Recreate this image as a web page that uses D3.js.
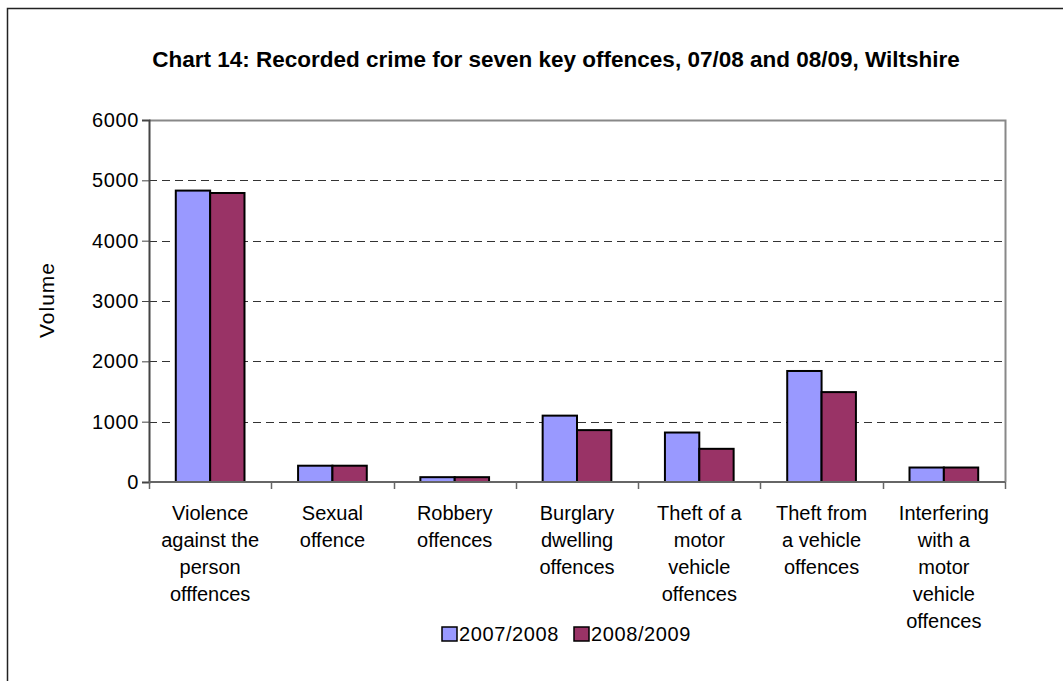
<!DOCTYPE html>
<html>
<head>
<meta charset="utf-8">
<script src="https://cdn.jsdelivr.net/npm/d3@7"></script>
<style>
  body { margin: 0; background: #fff; }
  text { font-family: "Liberation Sans", Arial, sans-serif; fill: #000; }
</style>
</head>
<body>
<script>
var width = 1063;
var height = 681;

var margin = {top: 120, left: 149, right: 58, bottom: 199};

var categories = [
  ["Violence", "against the", "person", "offfences"],
  ["Sexual", "offence"],
  ["Robbery", "offences"],
  ["Burglary", "dwelling", "offences"],
  ["Theft of a", "motor", "vehicle", "offences"],
  ["Theft from", "a vehicle", "offences"],
  ["Interfering", "with a", "motor", "vehicle", "offences"]
];
var series = ["2007/2008", "2008/2009"];
var values0708 = [4830, 270, 80, 1100, 820, 1840, 240];
var values0809 = [4790, 270, 80, 860, 550, 1490, 240];
var yTicks = [0, 1000, 2000, 3000, 4000, 5000, 6000];
var colors = ["#9999ff", "#993366"];

var svg = d3.select("body")
  .append("svg")
  .attr("width", width)
  .attr("height", height);

// outer frame (left and top only visible)
svg.append("path")
  .attr("d", "M7.5," + height + "V8.5H" + width)
  .attr("fill", "none")
  .attr("stroke", "#222")
  .attr("stroke-width", 1.5);

svg.append("text")
  .attr("x", 556)
  .attr("y", 67)
  .attr("text-anchor", "middle")
  .style("font-weight", "bold")
  .style("font-size", "22.5px")
  .text("Chart 14: Recorded crime for seven key offences, 07/08 and 08/09, Wiltshire");

var idx = d3.range(categories.length);

var xScale = d3.scaleBand()
  .domain(idx)
  .range([margin.left, width - margin.right])
  .paddingInner(0)
  .paddingOuter(0);

var xInner = d3.scaleBand()
  .domain(series)
  .range([0, xScale.bandwidth()])
  .paddingOuter(0.78)
  .paddingInner(0);

var yScale = d3.scaleLinear()
  .domain([0, 6000])
  .range([height - margin.bottom, margin.top]);

// gridlines
svg.append("g")
  .selectAll("line")
  .data(yTicks.filter(function(d) { return d > 0 && d < 6000; }))
  .enter()
  .append("line")
  .attr("x1", margin.left)
  .attr("x2", width - margin.right)
  .attr("y1", function(d) { return Math.round(yScale(d)) + 0.5; })
  .attr("y2", function(d) { return Math.round(yScale(d)) + 0.5; })
  .attr("stroke", "#333")
  .attr("stroke-dasharray", "8,5");

// plot border top and right
svg.append("path")
  .attr("d", "M" + margin.left + "," + (yScale(6000) + 0.5) + "H" + (width - margin.right + 0.5) + "V" + yScale(0))
  .attr("fill", "none")
  .attr("stroke", "#888")
  .attr("stroke-width", 2);

// bars
var rows = idx.map(function(i) {
  return [{s: series[0], v: values0708[i], c: colors[0]},
          {s: series[1], v: values0809[i], c: colors[1]}];
});

svg.append("g")
  .selectAll("g")
  .data(rows)
  .enter()
  .append("g")
  .attr("transform", function(d, i) { return "translate(" + xScale(i) + ",0)"; })
  .selectAll("rect")
  .data(function(d) { return d; })
  .enter()
  .append("rect")
  .attr("x", function(d) { return xInner(d.s); })
  .attr("y", function(d) { return yScale(d.v); })
  .attr("width", xInner.bandwidth())
  .attr("height", function(d) { return yScale(0) - yScale(d.v); })
  .attr("fill", function(d) { return d.c; })
  .attr("stroke", "#000")
  .attr("stroke-width", 2);

// y axis
var yAxis = svg.append("g")
  .attr("transform", "translate(" + margin.left + ",0)")
  .call(d3.axisLeft(yScale).tickValues(yTicks).tickFormat(d3.format("d"))
    .tickSizeOuter(0).tickSize(7).tickPadding(3));
yAxis.select(".domain").attr("stroke", "#444").attr("stroke-width", 2);
yAxis.selectAll(".tick line").attr("stroke", "#444");
yAxis.selectAll(".tick text")
  .style("font-size", "20px")
  .style("letter-spacing", "0.6px")
  .style("font-family", "'Liberation Sans', Arial, sans-serif");

// x axis: ticks at category boundaries
var xAxisG = svg.append("g")
  .attr("transform", "translate(0," + yScale(0) + ")");
xAxisG.append("line")
  .attr("x1", margin.left)
  .attr("x2", width - margin.right)
  .attr("stroke", "#666")
  .attr("stroke-width", 2);
xAxisG.selectAll(".bt")
  .data(d3.range(categories.length + 1))
  .enter()
  .append("line")
  .attr("class", "bt")
  .attr("x1", function(d) { return Math.round(margin.left + d * xScale.bandwidth()) + 0.5; })
  .attr("x2", function(d) { return Math.round(margin.left + d * xScale.bandwidth()) + 0.5; })
  .attr("y1", 0)
  .attr("y2", 7)
  .attr("stroke", "#666")
  .attr("stroke-width", 1.5);

var labels = xAxisG.selectAll(".cat")
  .data(categories)
  .enter()
  .append("text")
  .attr("class", "cat")
  .attr("text-anchor", "middle")
  .style("font-size", "20px")
  .attr("transform", function(d, i) { return "translate(" + (xScale(i) + xScale.bandwidth() / 2) + ",38)"; });
labels.selectAll("tspan")
  .data(function(d) { return d; })
  .enter()
  .append("tspan")
  .attr("x", 0)
  .attr("y", function(d, i) { return i * 27; })
  .text(function(d) { return d; });

// y axis title
svg.append("text")
  .attr("transform", "translate(54,300) rotate(-90)")
  .attr("text-anchor", "middle")
  .style("font-size", "21px")
  .style("letter-spacing", "1px")
  .text("Volume");

// legend
var legendX = [442, 574];
var legend = svg.append("g")
  .selectAll("g")
  .data(series)
  .enter()
  .append("g")
  .attr("transform", function(d, i) { return "translate(" + legendX[i] + ",627)"; });
legend.append("rect")
  .attr("width", 15)
  .attr("height", 14)
  .attr("fill", function(d, i) { return colors[i]; })
  .attr("stroke", "#000")
  .attr("stroke-width", 1.5);
legend.append("text")
  .attr("x", 17)
  .attr("y", 14)
  .style("font-size", "20px")
  .style("letter-spacing", "0.6px")
  .text(function(d) { return d; });
</script>
</body>
</html>
